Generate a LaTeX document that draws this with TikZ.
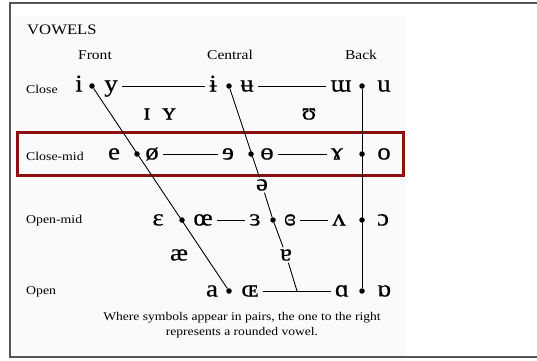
\documentclass[tikz,border=0pt]{standalone}
\usepackage{fontspec}
\setmainfont[FakeStretch=1.15]{Liberation Serif}
\newfontfamily\ipafont[FakeStretch=1.12, FakeBold=0.4]{Liberation Serif}
\usetikzlibrary{positioning,calc}
\definecolor{boxred}{RGB}{140,16,16}
\definecolor{framegray}{RGB}{85,85,85}

\begin{document}
\begin{tikzpicture}[
    x=1pt, y=-1pt,
    vowel/.style={font=\ipafont\fontsize{24}{24}\selectfont, inner xsep=4pt, inner ysep=0pt, text height=13pt, text depth=2pt},
    dot/.style={circle, fill=black, inner sep=0pt, minimum size=5.5pt},
    chartline/.style={line width=0.9pt},
    rowhead/.style={anchor=west, font=\fontsize{12}{14}\selectfont, inner sep=0pt},
    colhead/.style={font=\fontsize{13.5}{15}\selectfont, inner sep=0pt},
    heading/.style={anchor=west, font=\fontsize{14.5}{18}\selectfont, inner sep=0pt},
    note/.style={align=center, font=\fontsize{11.8}{15}\selectfont, inner sep=0pt}
]
\useasboundingbox (0,0) rectangle (537,360);

% Frame
\fill[black!2] (12,16) rectangle (405,355);
\draw[framegray, line width=2pt] (537,3) -- (10,3) -- (10,357) -- (537,357);

% Headings
\node[heading] (vowels) at (27,30) {VOWELS};
\node[colhead] (front) at (95,55) {Front};
\node[colhead] (central) at (230,55) {Central};
\node[colhead] (back) at (361,55) {Back};

% Row labels
\node[rowhead] (close) at (26,89) {Close};
\node[rowhead] (closemid) at (26,156) {Close-mid};
\node[rowhead] (openmid) at (26,221) {Open-mid};
\node[rowhead] (open) at (26,292) {Open};

% Close row
\node[vowel] (v-i) at (79,86) {i};
\node[dot] (d-close1) at (92,86) {};
\node[vowel] (v-y) at (111,86) {y};
\node[vowel] (v-ibar) at (213,86) {ɨ};
\node[dot] (d-close2) at (229,86) {};
\node[vowel] (v-ubar) at (247,86) {ʉ};
\node[vowel] (v-turnm) at (341,86) {ɯ};
\node[dot] (d-close3) at (362,86) {};
\node[vowel] (v-u) at (384,86) {u};

% Near-close
\node[vowel] (v-smalli) at (147,114) {ɪ};
\node[vowel] (v-smally) at (169,114) {ʏ};
\node[vowel] (v-upsilon) at (309,114) {ʊ};

% Close-mid row
\node[vowel] (v-e) at (114,154) {e};
\node[dot] (d-cmid1) at (137,154) {};
\node[vowel] (v-oslash) at (152,154) {ø};
\node[vowel] (v-reve) at (228,154) {ɘ};
\node[dot] (d-cmid2) at (251,154) {};
\node[vowel] (v-baro) at (267,154) {ɵ};
\node[vowel] (v-ramshorn) at (337,154) {ɤ};
\node[dot] (d-cmid3) at (362,154) {};
\node[vowel] (v-o) at (384,154) {o};

% Mid
\node[vowel] (v-schwa) at (262,185) {ə};

% Open-mid row
\node[vowel] (v-epsilon) at (158,220) {ɛ};
\node[dot] (d-omid1) at (182,220) {};
\node[vowel] (v-oe) at (203,220) {œ};
\node[vowel] (v-revepsilon) at (255,220) {ɜ};
\node[dot] (d-omid2) at (273,220) {};
\node[vowel] (v-closedeps) at (290,220) {ɞ};
\node[vowel] (v-turnv) at (339,220) {ʌ};
\node[dot] (d-omid3) at (362,220) {};
\node[vowel] (v-openo) at (383,220) {ɔ};

% Near-open
\node[vowel] (v-ae) at (179,255) {æ};
\node[vowel] (v-turna) at (286,255) {ɐ};

% Open row
\node[vowel] (v-a) at (212,291) {a};
\node[dot] (d-open1) at (229,291) {};
\node[vowel] (v-OE) at (250,291) {ɶ};
\coordinate (c-open) at (297,291);
\node[vowel] (v-alpha) at (342,291) {ɑ};
\node[dot] (d-open3) at (362,291) {};
\node[vowel] (v-turnalpha) at (384,291) {ɒ};

% Close-mid highlight
\draw[boxred, line width=3pt] (17,132) rectangle (403,175);

% Front, central and back lines
\draw[chartline] (d-close1) -- (d-open1);
\draw[chartline] (d-close2) -- (v-schwa) -- (d-omid2) -- (v-turna) -- (c-open);
\draw[chartline] (d-close3) -- (d-open3);

% Horizontal lines
\draw[chartline] (v-y) -- (v-ibar);
\draw[chartline] (v-ubar) -- (v-turnm);
\draw[chartline] (v-oslash) -- (v-reve);
\draw[chartline] (v-baro) -- (v-ramshorn);
\draw[chartline] (v-oe) -- (v-revepsilon);
\draw[chartline] (v-closedeps) -- (v-turnv);
\draw[chartline] (v-OE) -- (v-alpha);

% Note
\node[note] (note) at (242,325) {Where symbols appear in pairs, the one to the right\\represents a rounded vowel.};

\end{tikzpicture}
\end{document}
